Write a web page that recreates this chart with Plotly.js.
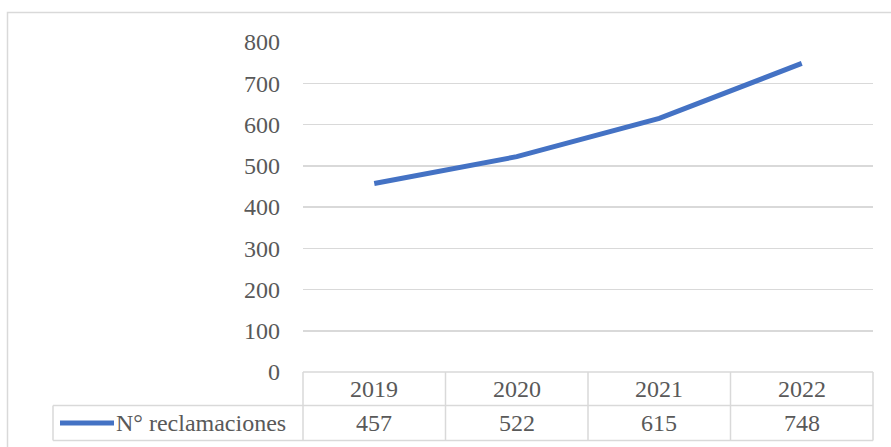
<!DOCTYPE html>
<html>
<head>
<meta charset="utf-8">
<script src="https://cdn.plot.ly/plotly-3.0.1.min.js"></script>
<style>
  html, body { margin: 0; padding: 0; background: #fff; }
  #chart { width: 891px; height: 447px; }
</style>
</head>
<body>
<div id="chart"></div>
<script>
// Annual complaints, drawn as a line with an Excel-style data table below
const years = ['2019', '2020', '2021', '2022'];
const reclamaciones = [457, 522, 615, 748];
const seriesName = 'N° reclamaciones';
const yTicks = [0, 100, 200, 300, 400, 500, 600, 700, 800];

const W = 891, H = 447;
const margin = { l: 303, r: 18, t: 42, b: 75 };
const plotW = W - margin.l - margin.r;
const plotH = H - margin.t - margin.b;

// pixel -> paper helpers for the table that sits under the plot area
const px = x => (x - margin.l) / plotW;
const py = y => (H - margin.b - y) / plotH;

const fontFamily = 'Liberation Serif, Times New Roman, serif';
const textColor = '#595959';
const borderColor = '#d9d9d9';
const lineColor = '#4472C4';
const fs = 24;

const n = years.length;
const rowTop = py(372), rowMid = py(405.5), rowBot = py(440.5);
const legendLeft = px(53);

const shapes = [];
// outer chart frame
shapes.push({ type: 'rect', xref: 'paper', yref: 'paper',
  x0: px(7.5), x1: px(W + 20), y0: py(H + 20), y1: py(12.5),
  line: { color: borderColor, width: 1.5 }, fillcolor: 'rgba(0,0,0,0)', layer: 'below' });
// table horizontal rules
shapes.push({ type: 'line', xref: 'paper', yref: 'paper', x0: 0, x1: 1, y0: rowTop, y1: rowTop,
  line: { color: borderColor, width: 1.5 } });
shapes.push({ type: 'line', xref: 'paper', yref: 'paper', x0: legendLeft, x1: 1, y0: rowMid, y1: rowMid,
  line: { color: borderColor, width: 1.5 } });
shapes.push({ type: 'line', xref: 'paper', yref: 'paper', x0: legendLeft, x1: 1, y0: rowBot, y1: rowBot,
  line: { color: borderColor, width: 1.5 } });
// legend cell left edge
shapes.push({ type: 'line', xref: 'paper', yref: 'paper', x0: legendLeft, x1: legendLeft, y0: rowBot, y1: rowMid,
  line: { color: borderColor, width: 1.5 } });
// column separators, one per category boundary
for (let i = 0; i <= n; i++) {
  const xp = i / n;
  shapes.push({ type: 'line', xref: 'paper', yref: 'paper', x0: xp, x1: xp, y0: rowBot, y1: rowTop,
    line: { color: borderColor, width: 1.5 } });
}
// legend key
shapes.push({ type: 'line', xref: 'paper', yref: 'paper', x0: px(60), x1: px(114), y0: py(423), y1: py(423),
  line: { color: lineColor, width: 5 } });

const annotations = [];
years.forEach((yr, i) => {
  const xc = (i + 0.5) / n;
  annotations.push({ xref: 'paper', yref: 'paper', x: xc, y: py(388.5), text: yr, showarrow: false,
    xanchor: 'center', yanchor: 'middle', font: { family: fontFamily, size: fs, color: textColor } });
  annotations.push({ xref: 'paper', yref: 'paper', x: xc, y: py(423), text: String(reclamaciones[i]), showarrow: false,
    xanchor: 'center', yanchor: 'middle', font: { family: fontFamily, size: fs, color: textColor } });
});
annotations.push({ xref: 'paper', yref: 'paper', x: px(114), y: py(423), text: seriesName, showarrow: false,
  xanchor: 'left', yanchor: 'middle', font: { family: fontFamily, size: fs, color: textColor } });

const trace = {
  type: 'scatter', mode: 'lines', x: years, y: reclamaciones, name: seriesName,
  line: { color: lineColor, width: 5, shape: 'linear' }, hoverinfo: 'skip', showlegend: false
};

const layout = {
  width: W, height: H, margin: margin,
  paper_bgcolor: '#fff', plot_bgcolor: '#fff',
  showlegend: false,
  xaxis: { type: 'category', range: [-0.5, n - 0.5], showticklabels: false, showgrid: false,
    zeroline: false, showline: false, ticks: '' },
  yaxis: { range: [0, 800], tickvals: yTicks, ticktext: yTicks.map(String),
    showgrid: true, gridcolor: borderColor, gridwidth: 1.5, zeroline: false, showline: false, ticks: '',
    ticklabelstandoff: 22,
    tickfont: { family: fontFamily, size: fs, color: textColor } },
  shapes: shapes, annotations: annotations
};

Plotly.newPlot('chart', [trace], layout, { displayModeBar: false, staticPlot: true });
</script>
</body>
</html>
